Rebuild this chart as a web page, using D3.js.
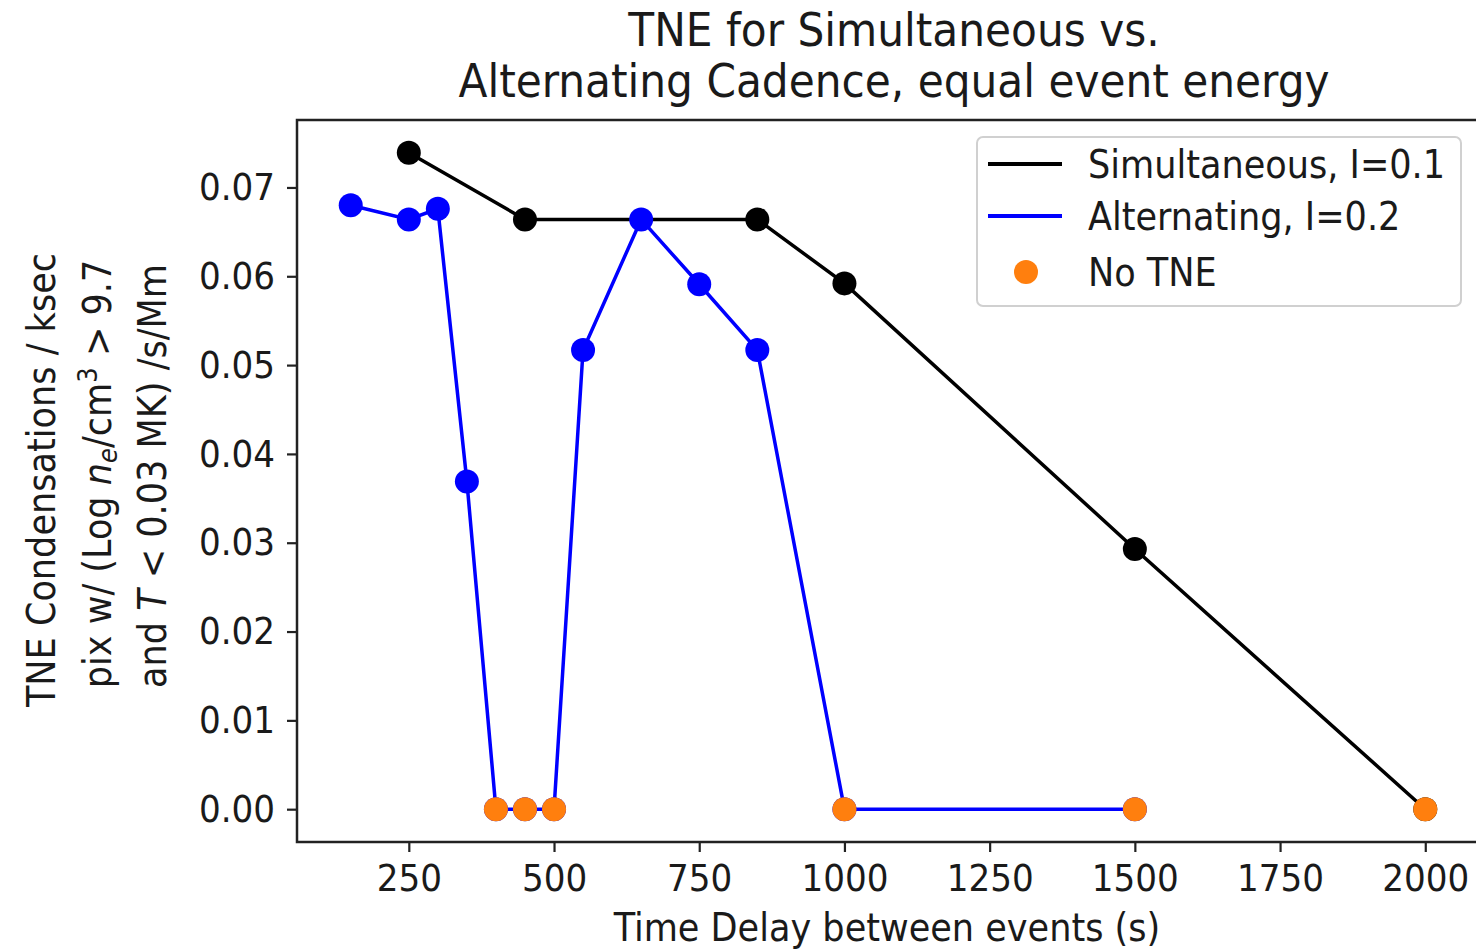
<!DOCTYPE html>
<html>
<head>
<meta charset="utf-8">
<script src="https://cdn.jsdelivr.net/npm/d3@7"></script>
<style>
  body { margin: 0; background: #fff; }
  text { font-family: "DejaVu Sans Condensed", "DejaVu Sans", sans-serif; fill: #1a1a1a; }
</style>
</head>
<body>
<div id="vis"></div>
<script>
// data
var simDelay = [250, 450, 850, 1000, 1500, 2000];
var simRate = [0.0739, 0.0664, 0.0664, 0.0592, 0.0293, 0.0];
var altDelay = [150, 250, 300, 350, 400, 450, 500, 550, 650, 750, 850, 1000, 1500];
var altRate = [0.0680, 0.0664, 0.0676, 0.0369, 0.0, 0.0, 0.0, 0.0517, 0.0664, 0.0591, 0.0517, 0.0, 0.0];
var noTneDelay = [400, 450, 500, 1000, 1500, 2000];
var noTneRate = [0, 0, 0, 0, 0, 0];
var xTicks = [250, 500, 750, 1000, 1250, 1500, 1750, 2000];
var yTicks = [0, 0.01, 0.02, 0.03, 0.04, 0.05, 0.06, 0.07];
var legendLabels = ["Simultaneous, I=0.1", "Alternating, I=0.2", "No TNE"];

var width = 1476;
var height = 949;
var mLeft = 297, mRight = 1479, mTop = 120, mBottom = 842;
var tickFont = 38;
var labelFont = 39;

var canvas = d3.select("#vis")
  .append("svg")
  .attr("width", width)
  .attr("height", height);

// matplotlib style 5% margins
var allX = simDelay.concat(altDelay, noTneDelay);
var allY = simRate.concat(altRate, noTneRate);
var xExt = d3.extent(allX), yExt = d3.extent(allY);
var xPad = (xExt[1] - xExt[0]) * 0.05, yPad = (yExt[1] - yExt[0]) * 0.05;

const x = d3.scaleLinear()
  .domain([xExt[0] - xPad, xExt[1] + xPad])
  .range([mLeft, mRight]);

const y = d3.scaleLinear()
  .domain([yExt[0] - yPad, yExt[1] + yPad])
  .range([mBottom, mTop]);

const xAxis = d3.axisBottom(x)
  .tickValues(xTicks)
  .tickSize(10)
  .tickPadding(12)
  .tickFormat(d3.format("d"));

const yAxis = d3.axisLeft(y)
  .tickValues(yTicks)
  .tickSize(10)
  .tickPadding(12)
  .tickFormat(d3.format(".2f"));

var gx = canvas.append("g")
  .attr("transform", `translate(0, ${mBottom})`)
  .call(xAxis);

var gy = canvas.append("g")
  .attr("transform", `translate(${mLeft}, 0)`)
  .call(yAxis);

[gx, gy].forEach(g => {
  g.select(".domain").remove();
  g.selectAll(".tick line").attr("stroke", "#222").attr("stroke-width", 2.2);
  g.selectAll(".tick text")
    .style("font-size", tickFont + "px")
    .style("font-family", '"DejaVu Sans Condensed", "DejaVu Sans", sans-serif')
    .attr("fill", "#1a1a1a");
});

// frame
canvas.append("rect")
  .attr("x", mLeft)
  .attr("y", mTop)
  .attr("width", mRight - mLeft)
  .attr("height", mBottom - mTop)
  .attr("fill", "none")
  .attr("stroke", "#222")
  .attr("stroke-width", 2.5);

var plot = canvas.append("g");

var line = d3.line()
  .x(d => x(d[0]))
  .y(d => y(d[1]));

var simPts = d3.zip(simDelay, simRate);
var altPts = d3.zip(altDelay, altRate);
var noPts = d3.zip(noTneDelay, noTneRate);

plot.append("path")
  .attr("d", line(simPts))
  .attr("fill", "none")
  .attr("stroke", "#000")
  .attr("stroke-width", 3.5);

plot.selectAll(".simdot")
  .data(simPts)
  .enter()
  .append("circle")
  .attr("cx", d => x(d[0]))
  .attr("cy", d => y(d[1]))
  .attr("r", 12)
  .attr("fill", "#000");

plot.append("path")
  .attr("d", line(altPts))
  .attr("fill", "none")
  .attr("stroke", "#0000ff")
  .attr("stroke-width", 3.5);

plot.selectAll(".altdot")
  .data(altPts)
  .enter()
  .append("circle")
  .attr("cx", d => x(d[0]))
  .attr("cy", d => y(d[1]))
  .attr("r", 12)
  .attr("fill", "#0000ff");

plot.selectAll(".nodot")
  .data(noPts)
  .enter()
  .append("circle")
  .attr("cx", d => x(d[0]))
  .attr("cy", d => y(d[1]))
  .attr("r", 12)
  .attr("fill", "#ff7f0e");

// title
var title = canvas.append("text")
  .attr("text-anchor", "middle")
  .style("font-size", "47px");
title.append("tspan").attr("x", 894).attr("y", 46).text("TNE for Simultaneous vs.");
title.append("tspan").attr("x", 894).attr("y", 97).text("Alternating Cadence, equal event energy");

// x label
canvas.append("text")
  .attr("x", 887)
  .attr("y", 941)
  .attr("text-anchor", "middle")
  .style("font-size", labelFont + "px")
  .text("Time Delay between events (s)");

// y label, three lines with math bits
var cy = 480;
var yl1 = canvas.append("text")
  .attr("transform", `translate(55, ${cy}) rotate(-90)`)
  .attr("text-anchor", "middle")
  .style("font-size", labelFont + "px")
  .text("TNE Condensations / ksec");

var yl2 = canvas.append("text")
  .attr("transform", `translate(111, ${cy - 6}) rotate(-90)`)
  .attr("text-anchor", "middle")
  .style("font-size", labelFont + "px");
yl2.append("tspan").text("pix w/ (Log ");
yl2.append("tspan").style("font-style", "italic").text("n");
yl2.append("tspan").style("font-size", "27px").style("font-style", "italic").attr("dy", 6).text("e");
yl2.append("tspan").attr("dy", -6).text("/cm");
yl2.append("tspan").style("font-size", "27px").attr("dy", -14).text("3");
yl2.append("tspan").attr("dy", 14).text(" > 9.7");

var yl3 = canvas.append("text")
  .attr("transform", `translate(166, ${cy - 4}) rotate(-90)`)
  .attr("text-anchor", "middle")
  .style("font-size", labelFont + "px");
yl3.append("tspan").text("and ");
yl3.append("tspan").style("font-style", "italic").text("T");
yl3.append("tspan").text(" < 0.03 MK) /s/Mm");

// legend
var legend = canvas.append("g")
  .attr("class", "legend");

legend.append("rect")
  .attr("x", 977)
  .attr("y", 137)
  .attr("width", 484)
  .attr("height", 169)
  .attr("rx", 6)
  .style("fill", "rgba(255, 255, 255, 0.8)")
  .style("stroke", "#d0d0d0")
  .style("stroke-width", 2);

var rowY = [164, 216, 272];
legend.append("line")
  .attr("x1", 988).attr("x2", 1062)
  .attr("y1", rowY[0]).attr("y2", rowY[0])
  .attr("stroke", "#000").attr("stroke-width", 4);
legend.append("line")
  .attr("x1", 988).attr("x2", 1062)
  .attr("y1", rowY[1]).attr("y2", rowY[1])
  .attr("stroke", "#0000ff").attr("stroke-width", 4);
legend.append("circle")
  .attr("cx", 1026).attr("cy", rowY[2])
  .attr("r", 12)
  .attr("fill", "#ff7f0e");

legend.selectAll(".ltext")
  .data(legendLabels)
  .enter()
  .append("text")
  .attr("x", 1088)
  .attr("y", (d, i) => rowY[i] + 14)
  .style("font-size", labelFont + "px")
  .text(d => d);
</script>
</body>
</html>
